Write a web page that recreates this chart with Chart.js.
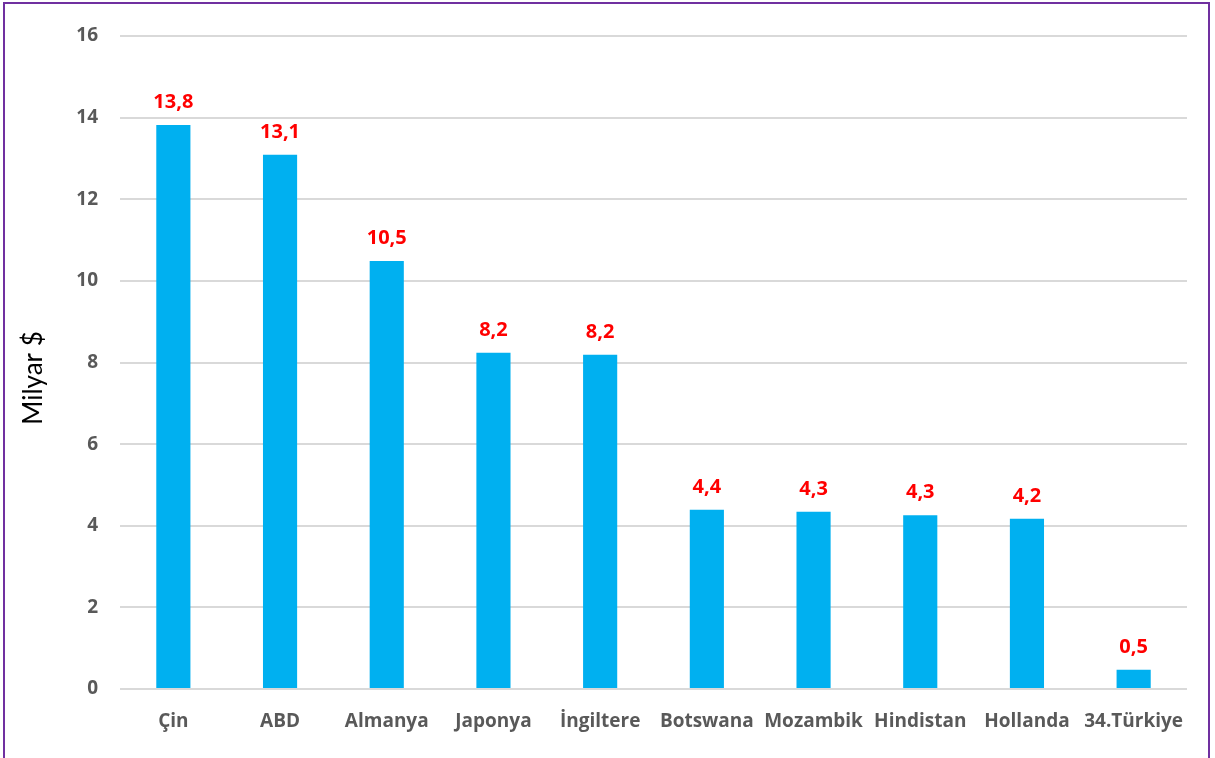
<!DOCTYPE html>
<html>
<head>
<meta charset="utf-8">
<script src="https://cdn.jsdelivr.net/npm/chart.js@4"></script>
<style>
  html, body { margin: 0; padding: 0; background: #fff; overflow: hidden; }
  #wrap { position: relative; width: 1215px; height: 758px; }
  #frame { position: absolute; left: 3px; top: 2px; width: 1207px; height: 770px; border: 2px solid #7030A0; box-sizing: border-box; }
  canvas { position: absolute; left: 0; top: 0; }
</style>
</head>
<body>
<div id="wrap">
  <canvas id="myChart" width="1215" height="758"></canvas>
  <div id="frame"></div>
</div>
<script>
var countries = ['Çin', 'ABD', 'Almanya', 'Japonya', 'İngiltere', 'Botswana', 'Mozambik', 'Hindistan', 'Hollanda', '34.Türkiye'];
var values = [13.82, 13.09, 10.49, 8.24, 8.19, 4.39, 4.34, 4.26, 4.17, 0.47];
var valueLabels = ['13,8', '13,1', '10,5', '8,2', '8,2', '4,4', '4,3', '4,3', '4,2', '0,5'];
var yTicks = [0, 2, 4, 6, 8, 10, 12, 14, 16];
var yTitle = 'Milyar $';

var boldFont = '"Open Sans", Lato, sans-serif';
var titleFont = 'Lato, "Open Sans", sans-serif';

// etiketleri barların üstüne yaz + eksen başlığı
var barLabels = {
    id: 'barLabels',
    afterDatasetsDraw: function(chart) {
        var ctx = chart.ctx;
        var meta = chart.getDatasetMeta(0);
        ctx.save();
        ctx.fillStyle = '#FF0000';
        ctx.font = 'bold 20px ' + boldFont;
        ctx.textAlign = 'center';
        ctx.textBaseline = 'alphabetic';
        meta.data.forEach(function(bar, i) {
            ctx.fillText(valueLabels[i], bar.x, bar.y - 17);
        });
        ctx.restore();

        ctx.save();
        ctx.translate(34, 378);
        ctx.rotate(-Math.PI / 2);
        ctx.fillStyle = '#000000';
        ctx.font = '26px ' + titleFont;
        ctx.textAlign = 'center';
        ctx.textBaseline = 'middle';
        ctx.fillText(yTitle, 0, 0);
        ctx.restore();
    }
};

var ctx = document.getElementById('myChart').getContext('2d');
var myChart = new Chart(ctx, {
    type: 'bar',
    data: {
        labels: countries,
        datasets: [{
            data: values,
            backgroundColor: '#00B0F0',
            borderWidth: 0,
            barPercentage: 0.32,
            categoryPercentage: 1
        }]
    },
    options: {
        responsive: false,
        animation: false,
        layout: { padding: { left: 14, right: 28, top: 36, bottom: 0 } },
        plugins: {
            legend: { display: false },
            tooltip: { enabled: false }
        },
        scales: {
            x: {
                grid: { display: false },
                border: { display: false },
                ticks: {
                    color: '#595959',
                    font: { family: boldFont, size: 19, weight: 'bold' },
                    padding: 13,
                    maxRotation: 0,
                    autoSkip: false
                },
                afterFit: function(scale) { scale.height = 69; }
            },
            y: {
                min: 0,
                max: 16,
                afterBuildTicks: function(scale) {
                    scale.ticks = yTicks.map(function(v) { return { value: v }; });
                },
                grid: { color: '#D9D9D9', lineWidth: 2, drawTicks: false },
                border: { display: false },
                ticks: {
                    color: '#595959',
                    font: { family: boldFont, size: 19, weight: 'bold' },
                    padding: 22
                },
                afterFit: function(scale) { scale.width = 106; }
            }
        }
    },
    plugins: [barLabels]
});
</script>
</body>
</html>
